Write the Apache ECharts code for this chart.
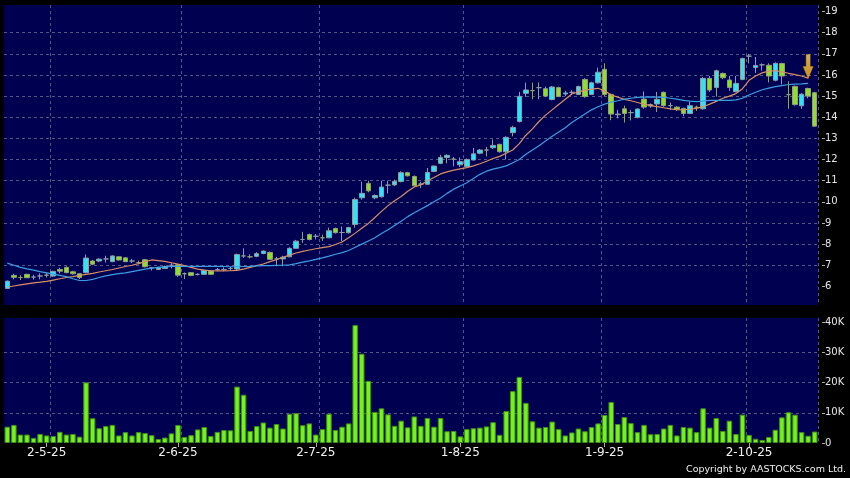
<!DOCTYPE html>
<html>
<head>
<meta charset="utf-8">
<script src="https://cdn.jsdelivr.net/npm/echarts@6/dist/echarts.min.js"></script>
<style>
  html, body { margin: 0; padding: 0; background: #000; }
  #chart { width: 850px; height: 478px; }
</style>
</head>
<body>
<div id="chart"></div>
<script>
// trading day index -> date label shown on the axis
var dateLabels = { 6: '2-5-25', 26: '2-6-25', 47: '2-7-25', 69: '1-8-25', 91: '1-9-25', 113: '2-10-25' };
// month start gridlines (left edge of that day)
var monthLines = [7, 27, 48, 70, 91, 113];

// [open, close, low, high]
var ohlc = [
  [5.90, 6.25, 5.88, 6.27], [6.52, 6.43, 6.33, 6.60], [6.42, 6.42, 6.30, 6.53], [6.57, 6.41, 6.40, 6.60],
  [6.44, 6.44, 6.32, 6.55], [6.49, 6.49, 6.33, 6.62], [6.53, 6.53, 6.42, 6.64], [6.49, 6.71, 6.45, 6.74],
  [6.80, 6.72, 6.62, 6.88], [6.90, 6.65, 6.62, 6.95], [6.69, 6.60, 6.55, 6.74], [6.60, 6.42, 6.35, 6.62],
  [6.65, 7.34, 6.62, 7.51], [7.20, 7.05, 7.00, 7.25], [7.20, 7.29, 7.15, 7.32], [7.30, 7.30, 7.13, 7.45],
  [7.17, 7.44, 7.15, 7.47], [7.40, 7.25, 7.22, 7.44], [7.35, 7.17, 7.15, 7.38], [7.20, 7.20, 7.10, 7.30],
  [7.13, 7.13, 7.05, 7.22], [7.26, 6.93, 6.90, 7.30], [6.88, 6.88, 6.75, 6.92], [6.80, 6.90, 6.78, 6.93],
  [6.85, 6.94, 6.82, 6.98], [7.00, 7.00, 6.85, 7.10], [7.02, 6.53, 6.45, 7.05], [6.60, 6.60, 6.35, 6.66],
  [6.65, 6.52, 6.48, 6.68], [6.57, 6.57, 6.52, 6.62], [6.57, 6.76, 6.55, 6.78], [6.73, 6.57, 6.55, 6.75],
  [6.80, 6.80, 6.72, 6.87], [6.80, 6.80, 6.72, 6.90], [6.85, 6.85, 6.75, 6.92], [6.82, 7.51, 6.75, 7.55],
  [7.44, 7.44, 7.35, 7.80], [7.40, 7.40, 7.33, 7.52], [7.42, 7.55, 7.38, 7.62], [7.56, 7.67, 7.52, 7.70],
  [7.60, 7.28, 7.25, 7.65], [7.30, 7.30, 6.95, 7.40], [7.30, 7.38, 6.95, 7.45], [7.40, 7.80, 7.38, 7.85],
  [7.80, 8.14, 7.78, 8.20], [8.22, 8.22, 8.06, 8.58], [8.45, 8.22, 8.18, 8.50], [8.37, 8.37, 8.22, 8.48],
  [8.30, 8.30, 8.15, 8.45], [8.30, 8.63, 8.28, 8.78], [8.74, 8.54, 8.50, 8.78], [8.55, 8.55, 8.14, 8.83],
  [8.54, 8.78, 8.50, 8.82], [8.93, 10.11, 8.78, 10.20], [10.19, 10.40, 10.10, 10.95], [10.87, 10.52, 10.45, 11.00],
  [10.19, 10.30, 10.12, 10.35], [10.24, 10.70, 10.20, 11.00], [10.79, 10.79, 10.40, 11.00], [10.80, 10.97, 10.75, 11.05],
  [10.96, 11.38, 10.92, 11.45], [11.38, 11.23, 11.20, 11.42], [11.20, 10.76, 10.72, 11.25], [10.84, 10.84, 10.65, 10.95],
  [10.83, 11.39, 10.80, 11.60], [11.44, 11.69, 11.40, 11.72], [11.82, 12.10, 11.78, 12.22], [12.10, 12.20, 11.82, 12.25],
  [12.02, 12.02, 11.68, 12.12], [11.75, 11.90, 11.65, 12.10], [11.66, 12.00, 11.62, 12.05], [11.98, 12.27, 11.95, 12.55],
  [12.30, 12.45, 12.25, 12.50], [12.45, 12.45, 12.15, 12.60], [12.56, 12.67, 12.50, 12.95], [12.72, 12.37, 12.33, 12.75],
  [12.37, 13.05, 12.00, 13.10], [13.27, 13.52, 13.10, 13.60], [13.80, 14.99, 13.75, 15.20], [15.13, 15.29, 14.97, 15.64],
  [15.26, 15.26, 14.85, 15.64], [15.40, 15.40, 14.85, 15.64], [15.35, 15.00, 14.95, 15.45], [14.84, 15.43, 14.80, 15.48],
  [15.40, 14.98, 14.95, 15.45], [15.10, 15.15, 15.00, 15.25], [15.18, 15.18, 15.05, 15.28], [15.08, 15.45, 15.05, 15.50],
  [15.79, 14.98, 14.92, 15.85], [15.08, 15.63, 15.05, 15.68], [15.63, 16.13, 15.60, 16.35], [16.27, 15.08, 15.00, 16.55],
  [15.08, 14.15, 13.86, 15.12], [14.12, 14.15, 13.95, 14.35], [14.40, 14.18, 13.75, 14.55], [14.22, 14.22, 13.85, 14.35],
  [13.99, 14.39, 13.95, 14.42], [14.86, 14.48, 14.40, 15.22], [14.53, 14.60, 14.45, 14.65], [14.63, 14.85, 14.25, 15.20],
  [15.18, 14.55, 14.50, 15.22], [14.55, 14.55, 14.35, 14.70], [14.48, 14.38, 14.30, 14.52], [14.42, 14.18, 14.05, 14.45],
  [14.18, 14.55, 14.15, 14.75], [14.47, 14.47, 14.30, 14.55], [14.40, 15.84, 14.35, 15.90], [15.84, 15.29, 15.20, 15.95],
  [15.41, 16.20, 14.98, 16.25], [16.07, 15.87, 15.80, 16.12], [15.76, 15.41, 15.25, 15.95], [15.21, 15.60, 15.18, 15.95],
  [15.79, 16.78, 15.75, 16.82], [16.89, 16.89, 16.55, 17.00], [16.35, 16.45, 16.10, 16.85], [16.48, 16.48, 16.20, 16.55],
  [16.46, 15.95, 15.65, 16.55], [15.75, 16.55, 15.70, 16.60], [16.54, 15.95, 15.55, 16.58], [15.07, 15.07, 14.40, 15.70],
  [15.46, 14.60, 14.55, 15.50], [14.54, 15.09, 14.40, 15.15], [15.36, 15.00, 14.90, 15.40], [15.16, 13.58, 13.55, 15.20]
];

// moving averages as drawn
var maShort = [
  5.97, 6.02, 6.07, 6.12, 6.17, 6.20, 6.24, 6.30, 6.36, 6.42, 6.46, 6.52, 6.57, 6.62, 6.68, 6.74,
  6.80, 6.87, 6.94, 7.00, 7.08, 7.17, 7.25, 7.22, 7.18, 7.12, 7.05, 6.98, 6.90, 6.82, 6.77, 6.74,
  6.73, 6.73, 6.74, 6.76, 6.82, 6.90, 6.98, 7.06, 7.17, 7.26, 7.38, 7.48, 7.58, 7.66, 7.72, 7.78,
  7.83, 7.88, 7.98, 8.10, 8.30, 8.52, 8.75, 8.98, 9.26, 9.55, 9.82, 10.05, 10.25, 10.50, 10.70, 10.80,
  11.00, 11.15, 11.32, 11.42, 11.50, 11.56, 11.62, 11.70, 11.80, 11.92, 12.05, 12.15, 12.30, 12.45, 12.75, 13.15,
  13.45, 13.80, 14.10, 14.35, 14.60, 14.85, 15.10, 15.20, 15.28, 15.33, 15.37, 15.25, 15.05, 14.95, 14.85, 14.78,
  14.70, 14.62, 14.55, 14.50, 14.45, 14.40, 14.36, 14.35, 14.38, 14.42, 14.50, 14.62, 14.75, 14.90, 15.00, 15.12,
  15.35, 15.75, 15.95, 16.10, 16.18, 16.20, 16.15, 16.08, 16.02, 15.95, 15.85, '-'
];
var maLong = [
  7.10, 7.00, 6.90, 6.83, 6.77, 6.70, 6.64, 6.58, 6.52, 6.46, 6.36, 6.28, 6.28, 6.33, 6.42, 6.50,
  6.56, 6.60, 6.64, 6.70, 6.76, 6.82, 6.86, 6.90, 6.92, 6.94, 6.95, 6.95, 6.95, 6.95, 6.95, 6.95,
  6.95, 6.94, 6.93, 6.93, 6.94, 6.95, 6.97, 6.98, 6.98, 6.99, 7.00, 7.02, 7.08, 7.15, 7.21, 7.28,
  7.35, 7.43, 7.52, 7.60, 7.70, 7.85, 8.00, 8.15, 8.30, 8.50, 8.68, 8.88, 9.08, 9.30, 9.48, 9.65,
  9.82, 10.00, 10.18, 10.40, 10.60, 10.75, 10.90, 11.10, 11.30, 11.45, 11.55, 11.62, 11.70, 11.85, 12.00, 12.25,
  12.45, 12.65, 12.88, 13.10, 13.30, 13.50, 13.75, 13.95, 14.15, 14.35, 14.50, 14.62, 14.72, 14.78, 14.86, 14.90,
  14.94, 14.95, 14.96, 14.95, 14.94, 14.90, 14.86, 14.80, 14.76, 14.74, 14.76, 14.80, 14.80, 14.80, 14.80, 14.82,
  14.90, 15.05, 15.18, 15.30, 15.38, 15.45, 15.50, 15.55, 15.57, 15.58, 15.60, '-'
];

// volume in thousands
var volume = [
  5.4, 6.0, 2.8, 2.8, 1.7, 3.0, 2.5, 2.3, 3.7, 2.8, 3.0, 2.1, 20.1, 8.2, 4.9, 5.6,
  6.0, 2.5, 3.6, 2.5, 3.6, 3.3, 2.6, 1.3, 1.8, 3.2, 6.0, 2.0, 2.6, 4.5, 5.3, 2.3,
  3.7, 4.3, 4.2, 18.7, 16.0, 4.0, 5.6, 6.8, 5.1, 6.3, 4.8, 9.7, 9.9, 5.9, 6.5, 2.8,
  4.6, 9.7, 4.3, 5.4, 6.5, 39.1, 29.6, 20.6, 10.3, 11.5, 9.5, 5.7, 7.4, 5.2, 8.8, 5.7,
  8.3, 5.4, 8.3, 3.9, 4.0, 2.2, 4.6, 4.9, 5.1, 5.5, 6.9, 2.7, 10.6, 17.2, 21.9, 13.3,
  7.2, 5.1, 5.3, 7.1, 4.6, 2.5, 3.5, 4.8, 3.9, 5.3, 6.5, 9.3, 13.6, 6.3, 8.6, 6.6,
  3.6, 6.0, 2.9, 3.0, 4.8, 6.0, 2.5, 5.3, 5.1, 3.6, 11.5, 5.1, 8.3, 4.0, 7.4, 3.0,
  9.4, 2.7, 1.4, 1.0, 2.0, 4.4, 8.5, 10.2, 9.4, 3.6, 2.4, 3.8
];

var priceTicks = [6, 7, 8, 9, 10, 11, 12, 13, 14, 15, 16, 17, 18, 19];
var volumeTicks = [0, 10, 20, 30, 40];
var arrowPoint = [[122, 16.4]];

var days = [];
for (var i = 0; i < ohlc.length; i++) days.push(String(i));

var chart = echarts.init(document.getElementById('chart'));

var gridLine = { show: true, lineStyle: { color: '#55558c', type: [3, 3], width: 1 } };
var labelFont = { color: '#e6e6e6', fontFamily: 'DejaVu Sans', fontSize: 10 };

var option = {
  backgroundColor: '#000',
  animation: false,
  grid: [
    { left: 4, right: 32, top: 5, height: 300, show: true, backgroundColor: '#000050', borderWidth: 0, containLabel: false, outerBoundsMode: 'none' },
    { left: 4, right: 32, top: 318, height: 125, show: true, backgroundColor: '#000050', borderWidth: 0, containLabel: false, outerBoundsMode: 'none' }
  ],
  xAxis: [
    {
      type: 'category', gridIndex: 0, data: days, boundaryGap: true,
      axisLine: { show: false }, axisTick: { show: false }, axisLabel: { show: false },
      splitLine: Object.assign({ interval: function (idx) { return monthLines.indexOf(idx) >= 0; } }, gridLine)
    },
    {
      type: 'category', gridIndex: 1, data: days, boundaryGap: true,
      axisLine: { show: false },
      axisTick: {
        show: true, alignWithLabel: true, length: 4,
        interval: function (idx) { return dateLabels[idx] !== undefined; },
        lineStyle: { color: '#aaaaaa' }
      },
      axisLabel: {
        show: true, margin: 4, color: '#f0f0f0', fontFamily: 'DejaVu Sans', fontSize: 12,
        interval: function (idx) { return dateLabels[idx] !== undefined; },
        formatter: function (v, idx) { return dateLabels[idx] || ''; }
      },
      splitLine: Object.assign({ interval: function (idx) { return monthLines.indexOf(idx) >= 0; } }, gridLine)
    }
  ],
  yAxis: [
    {
      type: 'value', gridIndex: 0, position: 'right', offset: 4,
      min: 5.12, max: 19.31, minInterval: 1, maxInterval: 1, splitNumber: 14,
      axisLine: { show: false },
      axisTick: { show: true, length: 3, lineStyle: { color: '#aaaaaa' }, customValues: priceTicks },
      axisLabel: Object.assign({ margin: 3, customValues: priceTicks }, labelFont),
      splitLine: Object.assign({ showMinLine: false, showMaxLine: false }, gridLine)
    },
    {
      type: 'value', gridIndex: 1, position: 'right', offset: 4,
      min: 0, max: 41.43, minInterval: 10, maxInterval: 10,
      axisLine: { show: false },
      axisTick: { show: true, length: 3, lineStyle: { color: '#aaaaaa' }, customValues: volumeTicks },
      axisLabel: Object.assign({
        margin: 3, customValues: volumeTicks,
        formatter: function (v) { return v === 0 ? '0' : v + 'K'; }
      }, labelFont),
      splitLine: Object.assign({ showMinLine: false, showMaxLine: false }, gridLine)
    }
  ],
  series: [
    {
      name: 'price', type: 'candlestick', xAxisIndex: 0, yAxisIndex: 0,
      data: ohlc.map(function (d) { return [d[0], d[1], d[2], d[3]]; }),
      barWidth: 5,
      itemStyle: {
        color: '#35e3f0', color0: '#8ede2a',
        borderColor: '#8a9ca6', borderColor0: '#90a07a', borderWidth: 1
      }
    },
    {
      name: 'MA short', type: 'line', xAxisIndex: 0, yAxisIndex: 0, data: maShort,
      symbol: 'none', smooth: false, lineStyle: { color: '#d98f66', width: 1.2 }
    },
    {
      name: 'MA long', type: 'line', xAxisIndex: 0, yAxisIndex: 0, data: maLong,
      symbol: 'none', smooth: false, lineStyle: { color: '#3d9de3', width: 1.2 }
    },
    {
      name: 'signal', type: 'scatter', xAxisIndex: 0, yAxisIndex: 0, data: arrowPoint,
      symbol: 'path://M3,0 L7,0 L7,12 L10,12 L5,24 L0,12 L3,12 Z',
      symbolSize: [10, 24], z: 10,
      itemStyle: {
        color: new echarts.graphic.LinearGradient(0, 0, 0, 1, [
          { offset: 0, color: '#ffe066' }, { offset: 1, color: '#ffb000' }
        ]),
        borderColor: '#d99400', borderWidth: 0.5
      }
    },
    {
      name: 'volume', type: 'bar', xAxisIndex: 1, yAxisIndex: 1, data: volume,
      barWidth: 5.5,
      itemStyle: { color: '#74f21a', borderColor: '#3f8f12', borderWidth: 1 }
    }
  ],
  graphic: [
    {
      type: 'text', right: 4, top: 465,
      style: { text: 'Copyright by AASTOCKS.com Ltd.', fill: '#f0f0f0', font: '9.5px "DejaVu Sans"' }
    }
  ]
};

chart.setOption(option);
</script>
</body>
</html>
